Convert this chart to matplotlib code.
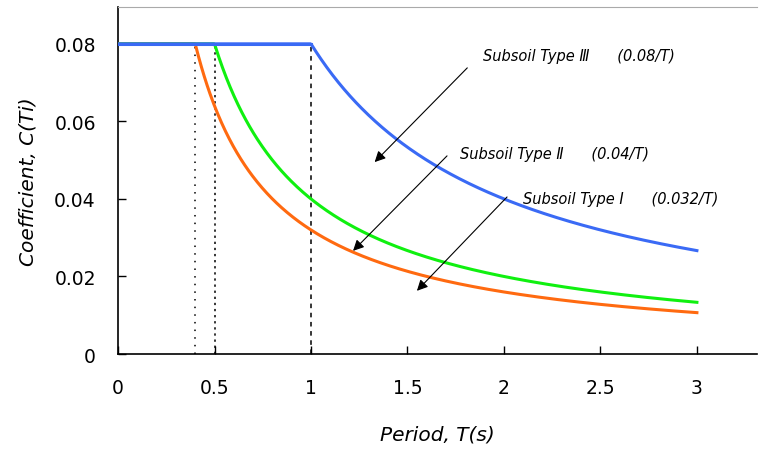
import numpy as np
import matplotlib.pyplot as plt

plt.rcParams['font.family'] = ['DejaVu Sans', 'Noto Sans CJK JP']

# design spectrum: C(T) = min(c_max, k / T)
c_max = 0.08
soil_names = ['Subsoil Type Ⅰ', 'Subsoil Type Ⅱ', 'Subsoil Type Ⅲ']
soil_k = [0.032, 0.04, 0.08]
soil_colors = ['#ff6a10', '#10f010', '#3a6af5']
corner_T = [0.4, 0.5, 1.0]
corner_styles = [(0, (1, 4)), (0, (1.5, 2.5)), (0, (3, 3))]

xticks = [0, 0.5, 1, 1.5, 2, 2.5, 3]
yticks = [0, 0.02, 0.04, 0.06, 0.08]

# label text position, arrow tail, arrow head (data coords)
label_xy = [(2.10, 0.0400), (1.77, 0.0518), (1.89, 0.0770)]
arrow_from = [(2.016, 0.0405), (1.705, 0.0511), (1.81, 0.0738)]
arrow_to = [(1.549, 0.0163), (1.218, 0.0266), (1.33, 0.0495)]

fig = plt.figure(figsize=(7.59, 4.52), dpi=100)
ax = fig.add_axes([0.1555, 0.2146, 0.8415, 0.7677])

T = np.linspace(0.001, 3, 600)
for k, col in zip(soil_k, soil_colors):
    C = np.minimum(c_max, k / T)
    ax.plot(np.concatenate([[0], T]), np.concatenate([[c_max], C]),
            color=col, lw=2.2, zorder=3)
# flat plateau drawn last in blue
ax.plot([0, 1.0], [c_max, c_max], color=soil_colors[2], lw=2.2, zorder=4)

for t, ls in zip(corner_T, corner_styles):
    ax.plot([t, t], [0, c_max], color='black', lw=1.1, linestyle=ls, zorder=2)

for name, k, (tx, ty), p0, p1 in zip(soil_names, soil_k, label_xy, arrow_from, arrow_to):
    ax.text(tx, ty, f'{name}      ({k:g}/T)', fontsize=10.5, style='italic',
            va='center', ha='left')
    ax.annotate('', xy=p1, xytext=p0,
                arrowprops=dict(arrowstyle='-|>', color='black', lw=0.8,
                                mutation_scale=16, shrinkA=0, shrinkB=0))

ax.set_xlim(0, 3.31)
ax.set_ylim(0, 0.0895)
ax.set_xticks(xticks)
ax.set_xticklabels(['0', '0.5', '1', '1.5', '2', '2.5', '3'])
ax.set_yticks(yticks)
ax.set_yticklabels(['0', '0.02', '0.04', '0.06', '0.08'])
ax.tick_params(direction='in', length=6, width=1, labelsize=13.5)
ax.tick_params(axis='x', pad=17)
ax.tick_params(axis='y', pad=16)

ax.spines['right'].set_visible(False)
ax.spines['top'].set_color('#aaaaaa')
ax.spines['left'].set_linewidth(1.2)
ax.spines['bottom'].set_linewidth(1.2)

ax.set_xlabel('Period, T(s)', fontsize=14.5, style='italic', labelpad=20)
ax.set_ylabel('Coefficient, C(Ti)', fontsize=14.5, style='italic', labelpad=12)

fig.savefig('out.png', dpi=100)
